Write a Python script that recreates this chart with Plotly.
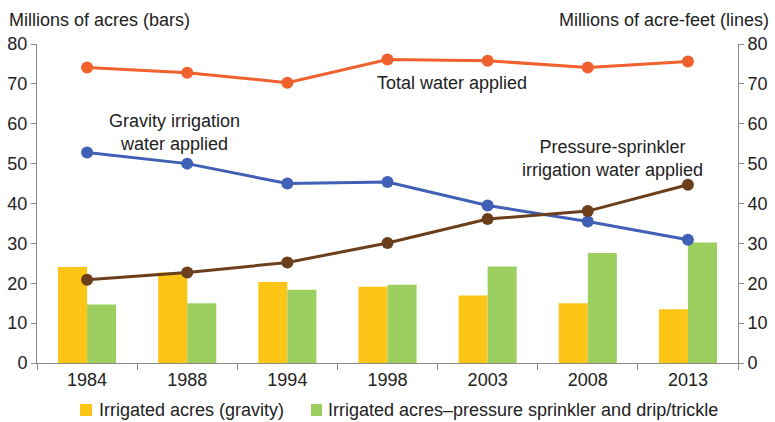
import plotly.graph_objects as go

years = ["1984", "1988", "1994", "1998", "2003", "2008", "2013"]
acres_gravity = [24.1, 22.7, 20.3, 19.1, 16.9, 15.0, 13.5]
acres_pressure = [14.7, 15.0, 18.4, 19.6, 24.2, 27.6, 30.2]
water_total = [74.1, 72.8, 70.3, 76.1, 75.8, 74.1, 75.6]
water_gravity = [52.8, 50.0, 45.0, 45.4, 39.5, 35.5, 30.9]
water_pressure = [20.9, 22.7, 25.2, 30.1, 36.1, 38.1, 44.7]

bar_names = ["Irrigated acres (gravity)",
             "Irrigated acres\u2013pressure sprinkler and drip/trickle"]
YELLOW = "#FDC516"
GREEN = "#9DCF60"

FONT = "Liberation Sans, Arial, Helvetica, sans-serif"

fig = go.Figure()
fig.add_trace(go.Bar(x=years, y=acres_gravity, name=bar_names[0], showlegend=False,
                     marker=dict(color=YELLOW, line=dict(width=0))))
fig.add_trace(go.Bar(x=years, y=acres_pressure, name=bar_names[1], showlegend=False,
                     marker=dict(color=GREEN, line=dict(width=0))))

line_style = dict(mode="lines+markers", yaxis="y2", showlegend=False, hoverinfo="y")
fig.add_trace(go.Scatter(x=years, y=water_total, name="Total water applied",
                         line=dict(color="#F0612E", width=3),
                         marker=dict(color="#F0612E", size=12), **line_style))
fig.add_trace(go.Scatter(x=years, y=water_gravity, name="Gravity irrigation water applied",
                         line=dict(color="#4060B6", width=3),
                         marker=dict(color="#4060B6", size=12), **line_style))
fig.add_trace(go.Scatter(x=years, y=water_pressure, name="Pressure-sprinkler irrigation water applied",
                         line=dict(color="#6B3E1C", width=3),
                         marker=dict(color="#6B3E1C", size=12), **line_style))

axis_common = dict(range=[0, 80], dtick=10, showgrid=False, zeroline=False,
                   showline=True, linecolor="#8a8a8a", linewidth=1,
                   ticks="outside", ticklen=5, tickcolor="#8a8a8a",
                   tickfont=dict(size=18, color="#222"), automargin=False)

fig.update_layout(
    width=775, height=422,
    margin=dict(l=37, r=37, t=44, b=59, autoexpand=False),
    paper_bgcolor="white", plot_bgcolor="white",
    font=dict(family=FONT, color="#222"),
    barmode="group", bargap=0.42, bargroupgap=0,
    showlegend=False,
    xaxis=dict(type="category", showgrid=False, showline=True, linecolor="#8a8a8a",
               ticks="outside", tickson="boundaries", ticklen=6, tickcolor="#8a8a8a",
               tickfont=dict(size=18, color="#222"), automargin=False),
    yaxis=dict(**axis_common),
    yaxis2=dict(overlaying="y", side="right", **axis_common),
    shapes=[
        dict(type="rect", xref="paper", yref="paper", x0=0.0613, x1=0.0785,
             y0=-0.1661, y1=-0.1285, fillcolor=YELLOW, line=dict(width=0)),
        dict(type="rect", xref="paper", yref="paper", x0=0.3909, x1=0.4066,
             y0=-0.1661, y1=-0.1285, fillcolor=GREEN, line=dict(width=0)),
    ],
    annotations=[
        dict(text="Millions of acres (bars)", xref="paper", yref="paper", x=-0.043, y=1.075,
             xanchor="left", yanchor="middle", showarrow=False, font=dict(size=18)),
        dict(text="Millions of acre-feet (lines)", xref="paper", yref="paper", x=1.047, y=1.075,
             xanchor="right", yanchor="middle", showarrow=False, font=dict(size=18)),
        dict(text="Total water applied", x=3.64, y=70.3, yref="y2", xref="x",
             showarrow=False, font=dict(size=18)),
        dict(text="Gravity irrigation<br>water applied", x=0.87, y=57.7, yref="y2", xref="x",
             showarrow=False, font=dict(size=18)),
        dict(text="Pressure-sprinkler<br>irrigation water applied", x=5.25, y=51.4, yref="y2", xref="x",
             showarrow=False, font=dict(size=18)),
        dict(text=bar_names[0],
             xref="paper", yref="paper", x=0.0855, y=-0.147, xanchor="left", yanchor="middle",
             showarrow=False, font=dict(size=18)),
        dict(text=bar_names[1],
             xref="paper", yref="paper", x=0.4122, y=-0.147, xanchor="left", yanchor="middle",
             showarrow=False, font=dict(size=18)),
    ],
)

fig.write_html("out.html", config={"displayModeBar": False},
               post_script="document.body.style.margin='0';document.body.style.padding='0';")
